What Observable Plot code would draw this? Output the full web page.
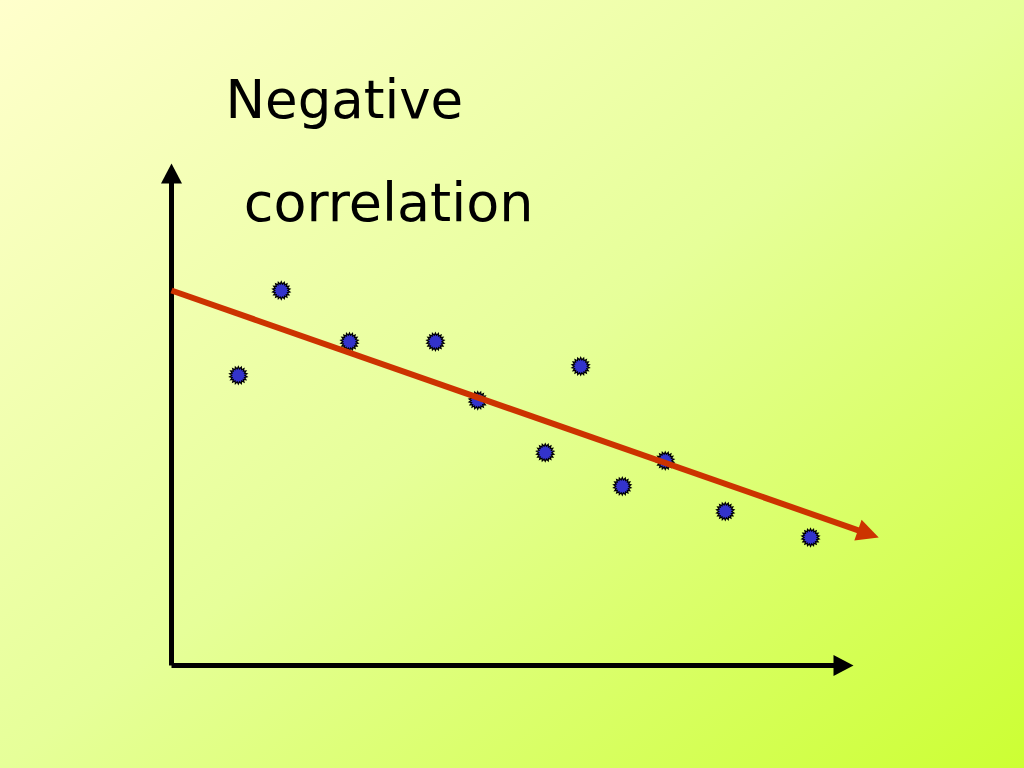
<!DOCTYPE html>
<html>
<head>
<meta charset="utf-8">
<script src="https://cdn.jsdelivr.net/npm/d3@7"></script>
<script src="https://cdn.jsdelivr.net/npm/@observablehq/plot@0.6"></script>
<style>
  html, body { margin: 0; padding: 0; width: 1024px; height: 768px; overflow: hidden;
    background: linear-gradient(to bottom right, #ffffcc, #e6ff99 50%, #ccff33); }
  #chart svg { display: block; }
</style>
</head>
<body>
<div id="chart"></div>
<script>
// Scatter data (arbitrary units, origin at the axes corner)
const xValues = [0.98, 1.61, 2.61, 3.87, 4.49, 5.48, 6.00, 6.61, 7.24, 8.12, 9.37];
const yValues = [5.78, 7.47, 6.45, 6.45, 5.28, 4.24, 5.96, 3.57, 4.08, 3.07, 2.55];

// Trend line (start and arrow tip)
const trendX = [0, 10.37];
const trendY = [7.47, 2.55];

// Axes extents
const axisMax = 10;

// Title lines
const titleLines = ["Negative", "correlation"];

const points = xValues.map((x, i) => ({x, y: yValues[i]}));
const trend = {x1: trendX[0], y1: trendY[0], x2: trendX[1], y2: trendY[1]};
const axes = [
  {x1: 0, y1: 0, x2: 0, y2: axisMax, rot: 0},
  {x1: 0, y1: 0, x2: axisMax, y2: 0, rot: 90}
];

const W = 1024, H = 768;
const mL = 171, mR = 171, mT = 163, mB = 103;
const pxPerX = (W - mL - mR) / axisMax;
const pxPerY = (H - mT - mB) / axisMax;
const trendAngle = Math.atan2((trend.y1 - trend.y2) * pxPerY, (trend.x2 - trend.x1) * pxPerX) * 180 / Math.PI;

// Filled arrowhead symbol: tip at the anchor, pointing up before rotation
const head = (len, wid) => ({
  draw(ctx) {
    ctx.moveTo(0, 0);
    ctx.lineTo(-wid / 2, len);
    ctx.lineTo(wid / 2, len);
    ctx.closePath();
  }
});

// Spiky "sun" marker
const spiky = {
  draw(ctx, size) {
    const r = Math.sqrt(size / Math.PI);
    const n = 18;
    for (let i = 0; i < 2 * n; i++) {
      const a = (i * Math.PI) / n;
      const rr = i % 2 === 0 ? r + 1.8 : r - 0.5;
      const px = rr * Math.sin(a), py = -rr * Math.cos(a);
      if (i === 0) ctx.moveTo(px, py); else ctx.lineTo(px, py);
    }
    ctx.closePath();
  }
};

const chart = Plot.plot({
  width: W,
  height: H,
  marginLeft: mL, marginRight: mR, marginTop: mT, marginBottom: mB,
  x: {domain: [0, axisMax], axis: null},
  y: {domain: [0, axisMax], axis: null},
  clip: false,
  style: {background: "transparent", overflow: "visible"},
  marks: [
    // axes shafts
    Plot.arrow(axes, {x1: "x1", y1: "y1", x2: "x2", y2: "y2", stroke: "#000", strokeWidth: 5,
      headLength: 0, insetEnd: 14, strokeLinecap: "butt"}),
    // axes heads
    Plot.dot(axes, {x: "x2", y: "y2", symbol: head(20, 21), rotate: "rot", r: 10, fill: "#000", stroke: "none"}),
    // data points
    Plot.dot(points, {x: "x", y: "y", symbol: spiky, r: 7, fill: "#3333cc", stroke: "#000", strokeWidth: 1.2}),
    // trend line
    Plot.arrow([trend], {x1: "x1", y1: "y1", x2: "x2", y2: "y2", stroke: "#cc3300", strokeWidth: 6,
      headLength: 0, insetEnd: 14, strokeLinecap: "butt"}),
    Plot.dot([trend], {x: "x2", y: "y2", symbol: head(22, 22), rotate: 90 + trendAngle, r: 10, fill: "#cc3300", stroke: "none"}),
    // title
    Plot.text([titleLines[0]], {x: 0.79, y: 11.25, text: d => d, textAnchor: "start", lineAnchor: "middle",
      fontSize: 53, fontFamily: "DejaVu Sans", fill: "#000"}),
    Plot.text([titleLines[1]], {x: 1.06, y: 9.2, text: d => d, textAnchor: "start", lineAnchor: "middle",
      fontSize: 54, fontFamily: "DejaVu Sans", fill: "#000"})
  ]
});
document.getElementById("chart").appendChild(chart);
</script>
</body>
</html>
